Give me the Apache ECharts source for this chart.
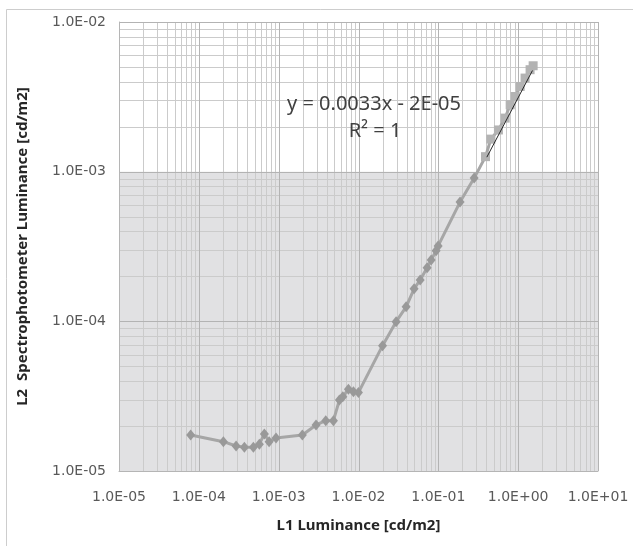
<!DOCTYPE html>
<html>
<head>
<meta charset="utf-8">
<script src="https://cdn.jsdelivr.net/npm/echarts@6/dist/echarts.min.js"></script>
<style>
  html, body { margin: 0; padding: 0; background: #fff; }
  #chart { width: 633px; height: 546px; }
</style>
</head>
<body>
<div id="chart"></div>
<script>
// 菱形系列 (L1, L2)
var diamondX = [7.9e-5, 2.03e-4, 2.93e-4, 3.72e-4, 4.82e-4, 5.73e-4, 6.62e-4, 7.59e-4, 9.27e-4,
  1.98e-3, 2.94e-3, 3.89e-3, 4.85e-3, 5.77e-3, 6.36e-3, 7.48e-3, 8.64e-3, 9.98e-3,
  2.0e-2, 2.96e-2, 3.95e-2, 4.97e-2, 5.92e-2, 7.24e-2, 8.13e-2, 9.38e-2, 9.94e-2, 1.87e-1, 2.81e-1];
var diamondY = [1.74e-5, 1.57e-5, 1.47e-5, 1.44e-5, 1.44e-5, 1.51e-5, 1.77e-5, 1.57e-5, 1.66e-5,
  1.74e-5, 2.03e-5, 2.17e-5, 2.17e-5, 2.98e-5, 3.14e-5, 3.52e-5, 3.39e-5, 3.34e-5,
  6.88e-5, 9.95e-5, 1.25e-4, 1.65e-4, 1.89e-4, 2.28e-4, 2.57e-4, 2.96e-4, 3.19e-4, 6.26e-4, 9.06e-4];

// 方形系列 (拟合用的点)
var squareX = [0.39, 0.455, 0.566, 0.687, 0.794, 0.917, 1.06, 1.22, 1.41, 1.54];
var squareY = [1.26e-3, 1.65e-3, 1.90e-3, 2.28e-3, 2.80e-3, 3.18e-3, 3.71e-3, 4.22e-3, 4.80e-3, 5.1e-3];

// 趋势线端点
var trendX = [0.405, 1.51];
var trendY = [1.25e-3, 4.74e-3];

var xTicks = [1e-5, 1e-4, 1e-3, 1e-2, 1e-1, 1e0, 1e1];
var yTicks = [1e-5, 1e-4, 1e-3, 1e-2];

var equationText = 'y = 0.0033x - 2E-05';
var r2Text = 'R\u00b2 = 1';

var X_MIN = 1e-5, X_MAX = 10, Y_MIN = 1e-5, Y_MAX = 1e-2;

function fmtE(v) {
  var e = Math.round(Math.log10(v));
  return '1.0E' + (e < 0 ? '-' : '+') + String(Math.abs(e)).padStart(2, '0');
}

function zip(xs, ys) {
  return xs.map(function (x, i) { return [x, ys[i]]; });
}

// 网格线: [x, y, 方向(0竖/1横), 主线?]
function gridLines() {
  var out = [];
  function add(ticks, orient) {
    ticks.forEach(function (t, i) {
      out.push(orient === 0 ? [t, 1e-4, 0, 1] : [1e-2, t, 1, 1]);
      if (i === ticks.length - 1) return;
      for (var k = 2; k <= 9; k++) {
        var v = t * k;
        out.push(orient === 0 ? [v, 1e-4, 0, 0] : [1e-2, v, 1, 0]);
      }
    });
  }
  add(xTicks, 0);
  add(yTicks, 1);
  // 次线先画, 主线后画
  out.sort(function (a, b) { return a[3] - b[3]; });
  return out;
}

var diamondData = zip(diamondX, diamondY);
// 连接到第一个方形点
diamondData.push({ value: [squareX[0], squareY[0]], symbol: 'none' });

var chart = echarts.init(document.getElementById('chart'));

var tickFont = { color: '#595959', fontSize: 14, fontFamily: 'DejaVu Sans' };
var nameFont = { color: '#262626', fontSize: 15, fontWeight: 'bold', fontFamily: 'Noto Sans' };

chart.setOption({
  backgroundColor: '#fff',
  animation: false,
  grid: { left: 119, right: 35, top: 22, bottom: 75 },
  xAxis: {
    type: 'log',
    logBase: 10,
    min: X_MIN,
    max: X_MAX,
    interval: 1,
    z: 3,
    axisLine: { show: true, lineStyle: { color: '#b5b5b5', width: 1 } },
    axisTick: { show: false },
    splitLine: { show: false },
    axisLabel: Object.assign({ margin: 19, formatter: fmtE }, tickFont),
    name: 'L1 Luminance [cd/m2]',
    nameLocation: 'middle',
    nameGap: 47,
    nameTextStyle: nameFont
  },
  yAxis: {
    type: 'log',
    logBase: 10,
    min: Y_MIN,
    max: Y_MAX,
    interval: 1,
    z: 3,
    axisLine: { show: true, lineStyle: { color: '#b5b5b5', width: 1 } },
    axisTick: { show: false },
    splitLine: { show: false },
    axisLabel: Object.assign({ margin: 13, formatter: fmtE }, tickFont),
    name: 'L2  Spectrophotometer Luminance [cd/m2]',
    nameLocation: 'middle',
    nameGap: 89,
    nameTextStyle: nameFont
  },
  graphic: [
    {
      type: 'rect', z: -10, silent: true,
      shape: { x: 6.5, y: 9.5, width: 700, height: 700 },
      style: { fill: 'none', stroke: '#cdcdcd', lineWidth: 1 }
    },
    {
      type: 'text', z: 100,
      style: { x: 374, y: 104, text: equationText, textAlign: 'center', textVerticalAlign: 'middle',
        font: '20px "Noto Sans"', fill: '#404040' }
    },
    {
      type: 'text', z: 100,
      style: { x: 375, y: 131, text: r2Text, textAlign: 'center', textVerticalAlign: 'middle',
        font: '20px "Noto Sans"', fill: '#404040' }
    }
  ],
  series: [
    {
      // 阴影区域
      type: 'line', data: [], z: 0, silent: true,
      markArea: {
        silent: true,
        itemStyle: { color: '#e1e1e3' },
        data: [[{ yAxis: Y_MIN }, { yAxis: 1e-3 }]]
      }
    },
    {
      // 网格线
      type: 'custom',
      z: 1,
      silent: true,
      encode: { x: 0, y: 1 },
      data: gridLines(),
      renderItem: function (params, api) {
        var v, p1, p2;
        if (api.value(2) === 0) {
          v = api.value(0);
          p1 = api.coord([v, Y_MIN]);
          p2 = api.coord([v, Y_MAX]);
          p1[0] = p2[0] = Math.round(p1[0]) + 0.5;
        } else {
          v = api.value(1);
          p1 = api.coord([X_MIN, v]);
          p2 = api.coord([X_MAX, v]);
          p1[1] = p2[1] = Math.round(p1[1]) + 0.5;
        }
        var major = api.value(3) === 1;
        return {
          type: 'line',
          shape: { x1: p1[0], y1: p1[1], x2: p2[0], y2: p2[1] },
          style: { stroke: major ? '#b3b3b3' : '#cbcbcb', lineWidth: 1 }
        };
      }
    },
    {
      name: 'diamond',
      type: 'line',
      z: 10,
      data: diamondData,
      symbol: 'diamond',
      symbolSize: [9, 11],
      showAllSymbol: true,
      lineStyle: { color: '#a6a6a6', width: 3 },
      itemStyle: { color: '#999999' }
    },
    {
      name: 'square',
      type: 'line',
      z: 11,
      data: zip(squareX, squareY),
      symbol: 'rect',
      symbolSize: 9,
      showAllSymbol: true,
      lineStyle: { color: '#a6a6a6', width: 3 },
      itemStyle: { color: '#b3b3b3' }
    },
    {
      name: 'trend',
      type: 'line',
      z: 12,
      data: zip(trendX, trendY),
      symbol: 'none',
      lineStyle: { color: '#262626', width: 1 }
    }
  ]
});
</script>
</body>
</html>
